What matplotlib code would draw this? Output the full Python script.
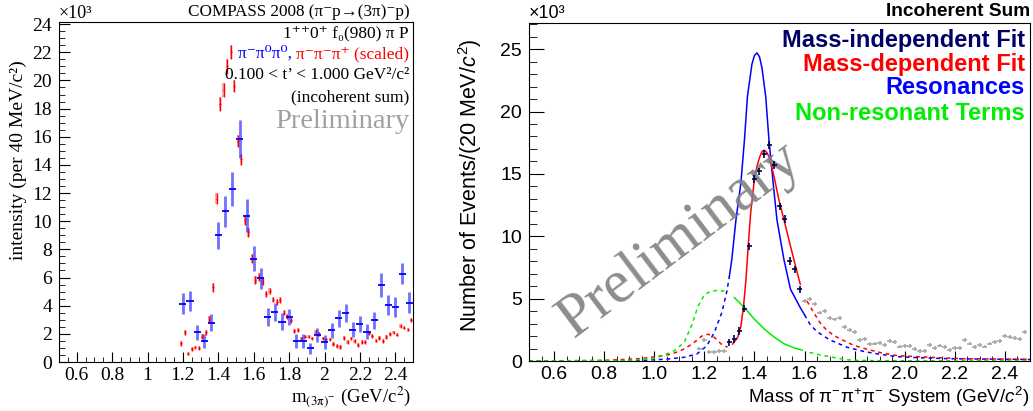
import numpy as np
import matplotlib.pyplot as plt
from matplotlib.ticker import MultipleLocator, FuncFormatter

plt.rcParams['mathtext.fontset'] = 'custom'
plt.rcParams['mathtext.rm'] = 'Liberation Sans'
plt.rcParams['mathtext.it'] = 'Liberation Sans:italic'
plt.rcParams['mathtext.bf'] = 'Liberation Sans:bold'

SERIF = ['Liberation Serif', 'DejaVu Serif']
SANS = ['Liberation Sans', 'DejaVu Sans']

# ---------------- left panel: intensity (x10^3) ----------------
m_neutral = np.round(np.arange(1.20, 2.49, 0.04), 2)
int_neutral = [4.15, 4.33, 2.1, 1.5, 2.8, 9.0, 10.7, 12.3, 15.85, 10.4, 7.35,
               5.95, 3.2, 3.55, 2.85, 3.2, 1.5, 1.5, 0.97, 1.9, 1.4, 2.25, 3.1,
               3.5, 2.3, 2.7, 2.15, 2.97, 5.45, 4.03, 3.9, 6.27, 4.2]
err_neutral = [0.75, 0.7, 0.55, 0.5, 0.6, 0.95, 1.1, 1.2, 1.35, 1.15, 0.9,
               0.75, 0.65, 0.65, 0.6, 0.6, 0.5, 0.5, 0.4, 0.5, 0.5, 0.55, 0.6,
               0.65, 0.55, 0.6, 0.55, 0.6, 0.85, 0.7, 0.7, 0.75, 0.75]

m_charged = np.round(np.arange(1.19, 2.50, 0.02), 2)
int_charged = [1.32, 2.1, 0.6, 0.92, 1.05, 1.0, 1.8, 2.1, 3.0, 5.3,
               11.6, 18.3, 19.3, 21.0, 22.0, 19.6, 15.7, 14.4, 10.1, 9.2,
               7.35, 5.8, 6.05, 5.72, 4.85, 5.05, 4.43, 4.26, 4.4, 3.5,
               3.2, 2.97, 2.2, 2.25, 1.67, 1.8, 1.8, 1.67, 2.15, 2.0,
               1.67, 1.6, 1.6, 1.27, 1.15, 1.08, 1.72, 1.4, 1.67, 1.5,
               1.2, 1.4, 1.4, 2.08, 1.83, 1.52, 1.7, 1.5, 1.78, 2.0,
               2.1, 1.95, 2.57, 2.45, 2.3, 2.97]
err_charged = [0.15, 0.15, 0.1, 0.12, 0.12, 0.12, 0.18, 0.18, 0.25, 0.3,
               0.4, 0.5, 0.5, 0.55, 0.5, 0.45, 0.45, 0.4, 0.35, 0.35,
               0.3, 0.28, 0.28, 0.25, 0.22, 0.22, 0.2, 0.2, 0.2, 0.18,
               0.18, 0.17, 0.15, 0.15] + [0.13] * 32

# ---------------- right panel: events (x10^3) ----------------
m_fit = np.round(np.arange(1.30, 1.59, 0.02), 2)
ev_fit = [1.49, 1.76, 2.42, 4.2, 9.2, 14.6, 15.2, 16.6, 17.3, 15.7, 12.4,
          11.4, 8.0, 7.35, 5.75]
m_out_lo = [1.18, 1.20, 1.22, 1.24, 1.26, 1.28]
ev_out_lo = [1.0, 1.7, 0.7, 0.75, 0.8, 0.82]
m_out_hi = np.round(np.arange(1.60, 2.49, 0.02), 2)
ev_out_hi = [4.8, 4.95, 4.55, 3.88, 4.0, 3.44, 3.33, 3.44, 2.74, 2.5,
             2.34, 1.69, 1.75, 1.34, 1.4, 1.45, 1.26, 1.61, 1.53, 1.16,
             1.18, 1.18, 0.94, 0.81, 0.78, 1.29, 1.02, 1.24, 1.1, 0.91,
             1.02, 1.05, 1.69, 1.4, 1.13, 1.26, 1.16, 1.4, 1.53, 1.59,
             1.99, 1.94, 1.83, 1.75, 2.31]

# resonances (blue)
m_res = [0.50, 0.80, 0.95, 1.05, 1.12, 1.17, 1.21, 1.24, 1.27, 1.29, 1.30,
         1.31, 1.326, 1.346, 1.36, 1.372, 1.39, 1.40, 1.41, 1.42, 1.43,
         1.445, 1.458, 1.475, 1.49, 1.518, 1.544, 1.583, 1.60, 1.623, 1.65,
         1.70, 1.77, 1.84, 1.90, 1.97, 2.05, 2.18, 2.50]
v_res = [0.0, 0.02, 0.05, 0.15, 0.3, 0.56, 1.22, 2.3, 3.9, 5.6, 6.8,
         8.2, 11.3, 14.3, 17.7, 21.2, 23.8, 24.5, 24.7, 24.4, 23.5,
         21.2, 17.7, 14.2, 11.3, 8.1, 5.75, 4.28, 3.7, 2.9, 2.35,
         1.7, 1.1, 0.75, 0.54, 0.35, 0.27, 0.18, 0.12]
# mass-dependent fit (red)
m_md = [0.50, 0.80, 0.95, 1.03, 1.07, 1.12, 1.16, 1.19, 1.215, 1.24,
        1.267, 1.293, 1.313, 1.333, 1.346, 1.356, 1.366, 1.375, 1.385, 1.40,
        1.41, 1.42, 1.43, 1.44, 1.45, 1.46, 1.478, 1.498, 1.518, 1.544,
        1.564, 1.583, 1.61, 1.636, 1.663, 1.69, 1.72, 1.756, 1.796, 1.85,
        1.903, 1.97, 2.05, 2.13, 2.24, 2.37, 2.50]
v_md = [0.0, 0.05, 0.2, 0.42, 0.56, 0.96, 1.5, 2.0, 2.15, 1.9,
        1.36, 1.1, 1.36, 1.9, 2.8, 4.3, 6.5, 9.2, 11.9, 14.6,
        15.6, 16.3, 16.8, 16.9, 16.7, 16.3, 14.8, 12.9, 11.3, 9.2,
        7.6, 6.15, 4.8, 3.9, 3.03, 2.44, 2.01, 1.64, 1.26, 0.94,
        0.67, 0.43, 0.35, 0.27, 0.18, 0.16, 0.14]
# non-resonant terms (green)
m_nr = [0.50, 0.90, 1.00, 1.04, 1.08, 1.12, 1.15, 1.175, 1.20, 1.225, 1.25,
        1.28, 1.32, 1.36, 1.40, 1.44, 1.48, 1.52, 1.56, 1.59, 1.62, 1.66,
        1.70, 1.75, 1.80, 1.90, 2.50]
v_nr = [0.0, 0.05, 0.2, 0.48, 0.82, 1.5, 2.9, 4.4, 5.3, 5.6, 5.65,
        5.6, 5.08, 4.28, 3.35, 2.55, 1.9, 1.36, 1.04, 0.88, 0.69, 0.5,
        0.35, 0.15, 0.05, 0.02, 0.01]
fit_lo, fit_hi = 1.30, 1.60

W, H = 1033, 411
fig = plt.figure(figsize=(W / 100, H / 100), dpi=100)
ax1 = fig.add_axes([59 / W, 49 / H, 354 / W, 340 / H])
ax2 = fig.add_axes([529 / W, 50 / H, 501 / W, 338 / H])


def trim_zero(v, pos):
    return f"{v:g}"


# ---- left panel ----
ax1.bar(m_charged, 2 * np.array(err_charged),
        bottom=np.array(int_charged) - np.array(err_charged),
        width=0.013, color="#ff0000", alpha=0.35, linewidth=0)
ax1.errorbar(m_charged, int_charged, xerr=0.005, yerr=err_charged, fmt="none",
             ecolor="#ff0000", elinewidth=1.0)
ax1.errorbar(m_neutral, int_neutral, yerr=err_neutral, fmt="none",
             ecolor="#3333ff", elinewidth=2.0, alpha=0.7)
ax1.errorbar(m_neutral, int_neutral, xerr=0.02, fmt="none",
             ecolor="#0000ff", elinewidth=1.3)

ax1.set_xlim(0.5, 2.5)
ax1.set_ylim(0, 24.15)
ax1.xaxis.set_major_locator(MultipleLocator(0.2))
ax1.xaxis.set_minor_locator(MultipleLocator(0.05))
ax1.yaxis.set_major_locator(MultipleLocator(2))
ax1.yaxis.set_minor_locator(MultipleLocator(0.5))
ax1.xaxis.set_major_formatter(FuncFormatter(trim_zero))
ax1.yaxis.set_major_formatter(FuncFormatter(trim_zero))
ax1.tick_params(which="both", direction="in", top=False, right=False)
ax1.tick_params(axis="y", which="major", length=8, pad=5)
ax1.tick_params(axis="y", which="minor", length=4)
ax1.tick_params(axis="x", which="major", length=7, pad=3.5)
ax1.tick_params(axis="x", which="minor", length=3.5)
for lab in ax1.get_xticklabels() + ax1.get_yticklabels():
    lab.set_family(SERIF)
    lab.set_fontsize(14)

fig.text(59 / W, 1 - 13 / H, "×10³", family=SERIF, fontsize=13, va="center")
fig.text(410 / W, 1 - 12 / H, "COMPASS 2008 (π⁻p→(3π)⁻p)", family=SERIF,
         fontsize=12.3, ha="right", va="center")
fig.text(18 / W, 1 - 60 / H, "intensity (per 40 MeV/c²)", family=SERIF,
         fontsize=14, rotation=90, ha="center", va="top")
fig.text(411 / W, 1 - 409 / H, r"m$_{\mathrm{(3π)^{-}}}$ (GeV/c$^{\mathrm{2}}$)",
         family=SERIF, math_fontfamily="stix", fontsize=13.5,
         ha="right", va="bottom")

tx = 409 / W
fs_l = 12.5
fig.text(tx, 1 - 33 / H, "1⁺⁺0⁺ f₀(980) π P", family=SERIF, fontsize=fs_l,
         ha="right", va="center")
red_txt = fig.text(tx, 1 - 54 / H, "π⁻π⁻π⁺ (scaled)", family=SERIF,
                   fontsize=fs_l, color="#ff0000", ha="right", va="center")
fig.text(tx, 1 - 75 / H, "0.100 < t’ < 1.000 GeV²/c²", family=SERIF,
         fontsize=fs_l, ha="right", va="center")
fig.text(tx, 1 - 97 / H, "(incoherent sum)", family=SERIF, fontsize=fs_l,
         ha="right", va="center")
fig.text(tx, 1 - 121 / H, "Preliminary", family=SERIF, fontsize=20.5,
         color="#a0a0a0", ha="right", va="center")

fig.canvas.draw()
bb = red_txt.get_window_extent()
fig.text(bb.x0 / W, 1 - 54 / H, "π⁻π⁰π⁰, ", family=SERIF, fontsize=fs_l,
         color="#0000ff", ha="right", va="center")

# ---- right panel ----
ax2.errorbar(m_out_lo, ev_out_lo, xerr=0.01, yerr=0.15, fmt="none",
             ecolor="#a8a8a8", elinewidth=1.2)
ax2.errorbar(m_out_hi, ev_out_hi, xerr=0.01, yerr=0.15, fmt="none",
             ecolor="#a8a8a8", elinewidth=1.2)

curves = [(m_res, v_res, "#0000ff"), (m_md, v_md, "#ff0000"),
          (m_nr, v_nr, "#00ee00")]
for mm, vv, col in curves:
    mm = np.array(mm)
    vv = np.array(vv)
    inside = (mm >= fit_lo) & (mm <= fit_hi)
    low = mm <= fit_lo
    high = mm >= fit_hi
    ax2.plot(mm[inside], vv[inside], color=col, lw=1.1)
    ax2.plot(mm[low], vv[low], color=col, lw=1.1, dashes=(2.5, 2.5))
    ax2.plot(mm[high], vv[high], color=col, lw=1.1, dashes=(2.5, 2.5))

ax2.errorbar(m_fit, ev_fit, xerr=0.01, yerr=0.3, fmt="none",
             ecolor="#000050", elinewidth=1.2, zorder=5)

ax2.set_xlim(0.5, 2.5)
ax2.set_ylim(0, 27.1)
ax2.xaxis.set_major_locator(MultipleLocator(0.2))
ax2.xaxis.set_minor_locator(MultipleLocator(0.05))
ax2.yaxis.set_major_locator(MultipleLocator(5))
ax2.yaxis.set_minor_locator(MultipleLocator(1))
ax2.xaxis.set_major_formatter(FuncFormatter(lambda v, p: f"{v:.1f}"))
ax2.tick_params(which="both", direction="in", top=False, right=False)
ax2.tick_params(axis="y", which="major", length=11, pad=5)
ax2.tick_params(axis="y", which="minor", length=5.5)
ax2.tick_params(axis="x", which="major", length=7, pad=3.5)
ax2.tick_params(axis="x", which="minor", length=3.5)
for lab in ax2.get_xticklabels() + ax2.get_yticklabels():
    lab.set_family(SANS)
    lab.set_fontsize(14)

ax2.text(1.10, 9.7, "Preliminary", family=SERIF, fontsize=44,
         color="#808080", alpha=0.9, rotation=37, ha="center", va="center",
         rotation_mode="anchor")

fig.text(529 / W, 1 - 13 / H, "×10³", family=SANS, fontsize=13, va="center")
fig.text(1030 / W, 1 - 12 / H, "Incoherent Sum", family=SANS, fontsize=13.8,
         fontweight="bold", ha="right", va="center")
fig.text(470 / W, 1 - 38 / H, "Number of Events/(20 MeV/$c^{2}$)",
         family=SANS, fontsize=15.5, rotation=90, ha="center", va="top")
fig.text(1030 / W, 1 - 409 / H,
         "Mass of π$^{-}$π$^{+}$π$^{-}$ System (GeV/$c^{2}$)",
         family=SANS, fontsize=13.5, ha="right", va="bottom")

legend_items = [("Mass-independent Fit", "#000066", 40),
                ("Mass-dependent Fit", "#ff0000", 64),
                ("Resonances", "#0000ff", 88),
                ("Non-resonant Terms", "#00ee00", 113)]
for txt, col, ypix in legend_items:
    fig.text(1025 / W, 1 - ypix / H, txt, family=SANS, fontsize=17,
             fontweight="bold", color=col, ha="right", va="center")

fig.savefig("out.png", dpi=100)
